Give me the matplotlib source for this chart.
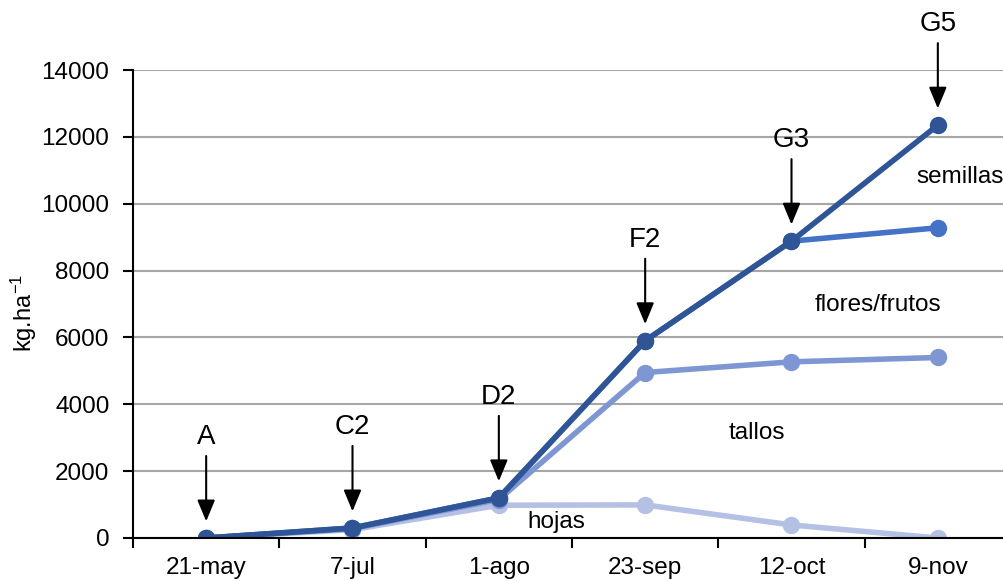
import matplotlib.pyplot as plt

plt.rcParams['font.family'] = ['Liberation Sans', 'DejaVu Sans']
plt.rcParams['mathtext.default'] = 'regular'

# fechas de muestreo y estados fenológicos
fechas = ['21-may', '7-jul', '1-ago', '23-sep', '12-oct', '9-nov']
estados = ['A', 'C2', 'D2', 'F2', 'G3', 'G5']

# biomasa acumulada (kg/ha)
hojas = [0, 250, 980, 990, 390, 0]
tallos = [0, 280, 1150, 4950, 5270, 5400]
flores = [0, 300, 1200, 5900, 8880, 9280]
semillas = [0, 300, 1200, 5900, 8880, 12350]

colores = ['#B4C1E4', '#7E97D3', '#4472C4', '#2F5597']
series = [hojas, tallos, flores, semillas]

fig = plt.figure(figsize=(10.04, 5.81), dpi=100)
ax = fig.add_axes([133 / 1004, 1 - 538 / 581, (1011 - 133) / 1004, (538 - 70) / 581])

x = range(len(fechas))
for vals, c in zip(series, colores):
    ax.plot(x, vals, color=c, lw=4, marker='o', ms=11.5, solid_capstyle='round')

# flechas con el estado fenológico
for i, (e, v) in enumerate(zip(estados, semillas)):
    ax.annotate('', xy=(i, v), xytext=(0, 82), textcoords='offset pixels',
                arrowprops=dict(arrowstyle='-|>,head_length=0.65,head_width=0.27',
                                mutation_scale=20, lw=1.5, color='black',
                                shrinkA=0, shrinkB=12))
    ax.annotate(e, xy=(i, v), xytext=(0, 88), textcoords='offset pixels',
                ha='center', va='bottom', fontsize=20)

# nombres de las fracciones
ax.text(5.15, 10800, 'semillas', ha='center', va='center', fontsize=17.5)
ax.text(4.59, 6970, 'flores/frutos', ha='center', va='center', fontsize=17.5)
ax.text(3.76, 3140, 'tallos', ha='center', va='center', fontsize=17.5)
ax.text(2.39, 480, 'hojas', ha='center', va='center', fontsize=17.5)

ax.set_xlim(-0.5, len(fechas) - 0.5)
ax.set_ylim(0, 14000)
ax.set_yticks(range(0, 14001, 2000))
ax.set_xticks(list(x))
ax.set_xticklabels(fechas)
ax.set_xticks([i - 0.5 for i in range(len(fechas) + 1)], minor=True)
ax.tick_params(axis='x', which='major', length=0, pad=14, labelsize=17.5)
ax.tick_params(axis='x', which='minor', length=7, width=1.5, direction='out')
ax.tick_params(axis='y', length=7, width=1.5, direction='out', pad=10, labelsize=17.5)

ax.yaxis.grid(True, color='#A6A6A6', lw=1.5)
ax.set_axisbelow(True)
for s in ['top', 'right']:
    ax.spines[s].set_visible(False)
for s in ['left', 'bottom']:
    ax.spines[s].set_linewidth(1.5)

ax.set_ylabel('kg.ha$^{-1}$', fontsize=17)
ax.yaxis.set_label_coords(-94 / 878, 0.48)

fig.savefig('out.png', dpi=100)
